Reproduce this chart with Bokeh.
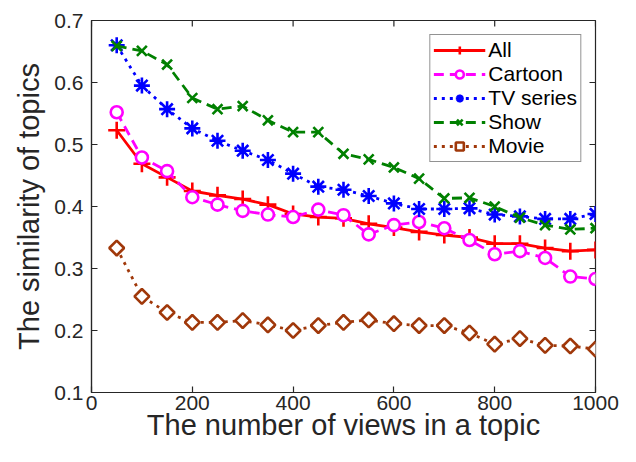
import math
from bokeh.plotting import figure
from bokeh.models import Legend, LegendItem, Range1d, FixedTicker
from bokeh.embed import file_html
from bokeh.resources import INLINE

views = [50, 100, 150, 200, 250, 300, 350, 400, 450, 500,
         550, 600, 650, 700, 750, 800, 850, 900, 950, 1000]

all_vals = [0.523, 0.469, 0.447, 0.425, 0.418, 0.412, 0.403, 0.388, 0.383, 0.381,
            0.372, 0.366, 0.359, 0.354, 0.350, 0.340, 0.340, 0.333, 0.328, 0.330]
cartoon = [0.552, 0.479, 0.457, 0.415, 0.403, 0.393, 0.387, 0.383, 0.395, 0.386,
           0.355, 0.370, 0.375, 0.365, 0.346, 0.323, 0.328, 0.317, 0.287, 0.283]
tv_series = [0.660, 0.595, 0.557, 0.526, 0.506, 0.490, 0.475, 0.453, 0.432, 0.427,
             0.417, 0.405, 0.396, 0.396, 0.397, 0.387, 0.384, 0.380, 0.380, 0.388]
show = [0.659, 0.651, 0.629, 0.575, 0.557, 0.562, 0.539, 0.520, 0.520, 0.485,
        0.476, 0.463, 0.445, 0.413, 0.414, 0.400, 0.382, 0.370, 0.363, 0.365]
movie = [0.333, 0.255, 0.229, 0.213, 0.213, 0.216, 0.209, 0.200, 0.208, 0.213,
         0.217, 0.211, 0.208, 0.208, 0.196, 0.178, 0.187, 0.176, 0.175, 0.170]

x_ticks = [0, 200, 400, 600, 800, 1000]
y_ticks = [0.1, 0.2, 0.3, 0.4, 0.5, 0.6, 0.7]

FONT = "Liberation Sans"
AX = "#262626"

p = figure(width=620, height=446, output_backend="svg", toolbar_location=None,
           x_range=Range1d(x_ticks[0], x_ticks[-1]),
           y_range=Range1d(y_ticks[0], y_ticks[-1]),
           min_border_left=91, min_border_right=25, min_border_top=20,
           min_border_bottom=54)
p.grid.visible = False
p.outline_line_color = AX
p.outline_line_width = 1.2
p.background_fill_color = "white"
p.border_fill_color = "white"

for ax in (p.xaxis[0], p.yaxis[0]):
    ax.axis_line_color = AX
    ax.axis_line_width = 1.2
    ax.major_tick_line_color = AX
    ax.major_tick_line_width = 1.2
    ax.major_tick_in = 6
    ax.major_tick_out = 0
    ax.minor_tick_line_color = None
    ax.major_label_text_font = FONT
    ax.major_label_text_color = AX
    ax.major_label_text_font_size = "21px"
    ax.axis_label_text_font = FONT
    ax.axis_label_text_font_style = "normal"
    ax.axis_label_text_color = AX
    ax.axis_label_text_font_size = "29px"

p.xaxis.ticker = FixedTicker(ticks=x_ticks)
p.yaxis.ticker = FixedTicker(ticks=y_ticks)
p.xaxis.axis_label = "The number of views in a topic"
p.yaxis.axis_label = "The similarity of topics"
p.xaxis.major_label_standoff = 3
p.xaxis.axis_label_standoff = -4
p.yaxis.major_label_standoff = 8
p.yaxis.axis_label_standoff = 6

# inward ticks on the top and right edges of the box
p.scatter(x_ticks, [y_ticks[-1]] * len(x_ticks), marker="dash", angle=math.pi / 2,
          size=12, line_color=AX, line_width=1.2)
p.scatter([x_ticks[-1]] * len(y_ticks), y_ticks, marker="dash",
          size=12, line_color=AX, line_width=1.2)

series = [
    ("All", all_vals, "#FF0000", "solid", "cross", 17, 0.0),
    ("Cartoon", cartoon, "#FF00FF", "10 6", "circle", 12, 0.0),
    ("TV series", tv_series, "#0000FF", "3 5", "asterisk", 16, 0.0),
    ("Show", show, "#008000", "10 6", "x", 14, 0.0),
    ("Movie", movie, "#A0380A", "3 5", "square", 10.5, math.pi / 4),
]

items = []
for name, vals, color, dash, marker, size, ang in series:
    ln = p.line(views, vals, line_color=color, line_width=2.8, line_dash=dash)
    sc = p.scatter(views, vals, marker=marker, size=size, angle=ang, line_color=color,
                   fill_color="white" if marker in ("circle", "square") else color,
                   line_width=2.6)
    items.append(LegendItem(label=name, renderers=[ln, sc]))

legend = Legend(items=items, location="top_right")
legend.label_text_font = FONT
legend.label_text_font_size = "21px"
legend.label_text_color = "black"
legend.label_height = 20
legend.label_standoff = 3
legend.glyph_width = 52
legend.glyph_height = 20
legend.spacing = 0
legend.padding = 3
legend.margin = 14
legend.border_line_color = AX
legend.border_line_width = 1.2
legend.background_fill_alpha = 1
p.add_layout(legend, "center")

open("out.html", "w").write(file_html(p, INLINE))
